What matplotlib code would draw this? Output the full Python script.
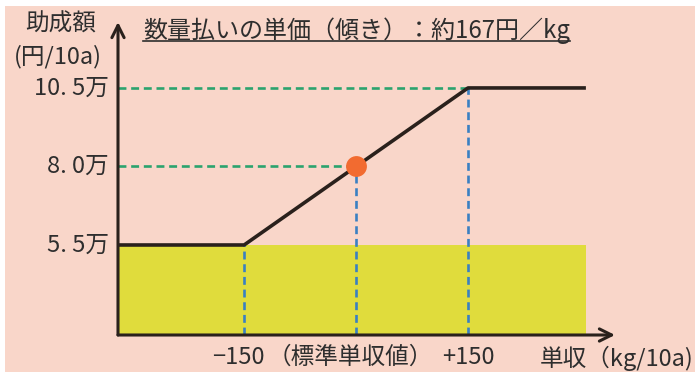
import matplotlib.pyplot as plt
from matplotlib.patches import Rectangle
from matplotlib.lines import Line2D

plt.rcParams['font.family'] = ['Noto Sans CJK JP', 'DejaVu Sans']

# data (x: deviation from standard yield kg/10a, y: subsidy in 万円/10a)
curve_x = [-319, -150, 150, 308]
curve_y = [5.5, 5.5, 10.5, 10.5]
key_x = [-150, 0, 150]
key_y = [5.5, 8.0, 10.5]
x_labels = ['−150', '（標準単収値）', '+150']
y_labels = ['5. 5万', '8. 0万', '10. 5万']
std_point = (0, 8.0)

pink = '#F9D6C9'
yellow = '#E0DC3C'
ink = '#2a211c'
txt = '#2e2e2e'
green = '#2BA36E'
blue = '#3A80C2'

W, H = 696, 374
fig = plt.figure(figsize=(W / 100, H / 100), dpi=100, facecolor='white')

# pink panel with thin white border
fig.patches.append(Rectangle((5 / W, 2 / H), (W - 6) / W, (H - 8) / H,
                             transform=fig.transFigure, facecolor=pink,
                             edgecolor='none', zorder=-10))

x0, x1, y0, y1 = -319, 347, 2.634, 12.6
ax = fig.add_axes([118 / W, (H - 335) / H, (615 - 118) / W, (335 - 22) / H])
ax.set_zorder(1)
ax.set_xlim(x0, x1)
ax.set_ylim(y0, y1)
ax.axis('off')

# yellow base area
ax.add_patch(Rectangle((x0, y0), curve_x[-1] - x0, key_y[0] - y0,
                       facecolor=yellow, edgecolor='none', zorder=1))

# guide lines
for xv, yv in zip(key_x, key_y):
    ax.plot([xv, xv], [y0, yv], color=blue, lw=1.9, ls=(0, (3, 1.8)), zorder=2)
for xv, yv in zip(key_x[1:], key_y[1:]):
    ax.plot([x0, xv], [yv, yv], color=green, lw=1.9, ls=(0, (3, 1.8)), zorder=2)

ax.plot(curve_x, curve_y, color=ink, lw=2.6, zorder=3, solid_capstyle='butt')
ax.plot(*std_point, 'o', ms=15, color='#F26B30', mec='none', zorder=4)

# axes with arrows
ax.annotate('', xy=(x1, y0), xytext=(x0, y0), zorder=5, annotation_clip=False,
            arrowprops=dict(arrowstyle='->', lw=2.2, color=ink,
                            mutation_scale=22, shrinkA=0, shrinkB=0))
ax.annotate('', xy=(x0, y1), xytext=(x0, y0), zorder=5, annotation_clip=False,
            arrowprops=dict(arrowstyle='->', lw=2.2, color=ink,
                            mutation_scale=22, shrinkA=0, shrinkB=0))

# tick labels
for yv, lab in zip(key_y, y_labels):
    ax.text(x0 - 12, yv, lab, ha='right', va='center', fontsize=17,
            color=txt, clip_on=False)
x_offsets = [-8, -8, 0]
for xv, lab, dx in zip(key_x, x_labels, x_offsets):
    ax.text(xv + dx, y0 - 0.72, lab, ha='center', va='center', fontsize=17,
            color=txt, clip_on=False)

fig.text(617 / W, 1 - 358 / H, '単収（kg/10a)', ha='center', va='center',
         fontsize=17, color=txt)
fig.text(61 / W, 1 - 24 / H, '助成額', ha='center', va='center',
         fontsize=17, color=txt)
fig.text(58 / W, 1 - 57 / H, '(円/10a)', ha='center', va='center',
         fontsize=17, color=txt)

title = fig.text(143 / W, 1 - 31 / H, '数量払いの単価（傾き）：約167円／kg',
                 ha='left', va='center', fontsize=17.3, color=txt)

# underline the title
fig.canvas.draw()
bb = title.get_window_extent()
fig.lines.append(Line2D([bb.x0 / W, bb.x1 / W], [1 - 41 / H, 1 - 41 / H],
                        transform=fig.transFigure, color=txt, lw=1.2))

fig.savefig('out.png', dpi=100, facecolor='white')
